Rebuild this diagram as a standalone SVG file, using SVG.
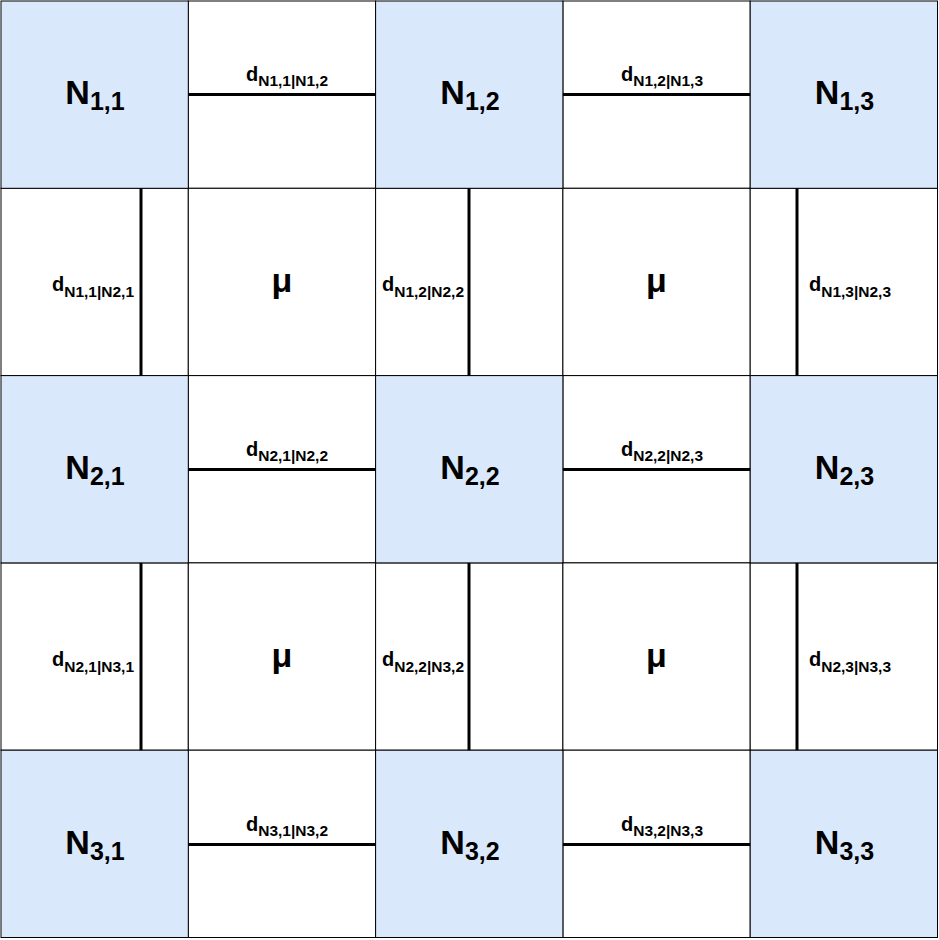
<svg xmlns="http://www.w3.org/2000/svg" width="939" height="940" viewBox="0 0 939 940">
<style>
.n{fill:#dae8fc;stroke:#000;stroke-width:1}
.e{fill:#fff;stroke:#000;stroke-width:1}
.bar{stroke:#000;stroke-width:3;fill:none}
.big{font-family:"Liberation Sans",Arial,sans-serif;font-weight:bold;font-size:34px;fill:#000;text-anchor:middle}
.bs{font-size:25px}
.d{font-family:"Liberation Sans",Arial,sans-serif;font-weight:bold;font-size:20px;fill:#000}
.ds{font-size:15.5px}
</style>
<rect x="0" y="0" width="939" height="940" fill="#fff"/>
<g id="cells-empty">
<rect class="e" x="188.3" y="1" width="187.3" height="187.3"/>
<rect class="e" x="562.9" y="1" width="187.3" height="187.3"/>
<rect class="e" x="1" y="188.3" width="187.3" height="187.3"/>
<rect class="e" x="188.3" y="188.3" width="187.3" height="187.3"/>
<rect class="e" x="375.6" y="188.3" width="187.3" height="187.3"/>
<rect class="e" x="562.9" y="188.3" width="187.3" height="187.3"/>
<rect class="e" x="750.2" y="188.3" width="187.3" height="187.3"/>
<rect class="e" x="188.3" y="375.6" width="187.3" height="187.3"/>
<rect class="e" x="562.9" y="375.6" width="187.3" height="187.3"/>
<rect class="e" x="1" y="562.9" width="187.3" height="187.3"/>
<rect class="e" x="188.3" y="562.9" width="187.3" height="187.3"/>
<rect class="e" x="375.6" y="562.9" width="187.3" height="187.3"/>
<rect class="e" x="562.9" y="562.9" width="187.3" height="187.3"/>
<rect class="e" x="750.2" y="562.9" width="187.3" height="187.3"/>
<rect class="e" x="188.3" y="750.2" width="187.3" height="187.3"/>
<rect class="e" x="562.9" y="750.2" width="187.3" height="187.3"/>
</g>
<g id="N11"><rect class="n" x="1" y="1" width="187.3" height="187.3"/><text class="big" x="95" y="104">N<tspan class="bs" dy="6">1,1</tspan></text></g>
<g id="N12"><rect class="n" x="375.6" y="1" width="187.3" height="187.3"/><text class="big" x="470" y="104">N<tspan class="bs" dy="6">1,2</tspan></text></g>
<g id="N13"><rect class="n" x="750.2" y="1" width="187.3" height="187.3"/><text class="big" x="844.5" y="104">N<tspan class="bs" dy="6">1,3</tspan></text></g>
<g id="N21"><rect class="n" x="1" y="375.6" width="187.3" height="187.3"/><text class="big" x="95" y="479">N<tspan class="bs" dy="6">2,1</tspan></text></g>
<g id="N22"><rect class="n" x="375.6" y="375.6" width="187.3" height="187.3"/><text class="big" x="470" y="479">N<tspan class="bs" dy="6">2,2</tspan></text></g>
<g id="N23"><rect class="n" x="750.2" y="375.6" width="187.3" height="187.3"/><text class="big" x="844.5" y="479">N<tspan class="bs" dy="6">2,3</tspan></text></g>
<g id="N31"><rect class="n" x="1" y="750.2" width="187.3" height="187.3"/><text class="big" x="95" y="854">N<tspan class="bs" dy="6">3,1</tspan></text></g>
<g id="N32"><rect class="n" x="375.6" y="750.2" width="187.3" height="187.3"/><text class="big" x="470" y="854">N<tspan class="bs" dy="6">3,2</tspan></text></g>
<g id="N33"><rect class="n" x="750.2" y="750.2" width="187.3" height="187.3"/><text class="big" x="844.5" y="854">N<tspan class="bs" dy="6">3,3</tspan></text></g>
<g id="connectors">
<line class="bar" x1="188.3" y1="94.5" x2="375.6" y2="94.5"/>
<line class="bar" x1="562.9" y1="94.5" x2="750.2" y2="94.5"/>
<line class="bar" x1="188.3" y1="469.5" x2="375.6" y2="469.5"/>
<line class="bar" x1="562.9" y1="469.5" x2="750.2" y2="469.5"/>
<line class="bar" x1="188.3" y1="844.5" x2="375.6" y2="844.5"/>
<line class="bar" x1="562.9" y1="844.5" x2="750.2" y2="844.5"/>
<line class="bar" x1="141" y1="188.3" x2="141" y2="375.6"/>
<line class="bar" x1="469" y1="188.3" x2="469" y2="375.6"/>
<line class="bar" x1="797" y1="188.3" x2="797" y2="375.6"/>
<line class="bar" x1="141" y1="562.9" x2="141" y2="750.2"/>
<line class="bar" x1="469" y1="562.9" x2="469" y2="750.2"/>
<line class="bar" x1="797" y1="562.9" x2="797" y2="750.2"/>
</g>
<g id="labels">
<text class="d" x="246" y="80.5">d<tspan class="ds" dy="5.5">N1,1|N1,2</tspan></text>
<text class="d" x="621" y="80.5">d<tspan class="ds" dy="5.5">N1,2|N1,3</tspan></text>
<text class="d" x="246" y="455.5">d<tspan class="ds" dy="5.5">N2,1|N2,2</tspan></text>
<text class="d" x="621" y="455.5">d<tspan class="ds" dy="5.5">N2,2|N2,3</tspan></text>
<text class="d" x="246" y="830.5">d<tspan class="ds" dy="5.5">N3,1|N3,2</tspan></text>
<text class="d" x="621" y="830.5">d<tspan class="ds" dy="5.5">N3,2|N3,3</tspan></text>
<text class="d" x="52" y="291">d<tspan class="ds" dy="5.5">N1,1|N2,1</tspan></text>
<text class="d" x="382" y="291">d<tspan class="ds" dy="5.5">N1,2|N2,2</tspan></text>
<text class="d" x="809" y="291">d<tspan class="ds" dy="5.5">N1,3|N2,3</tspan></text>
<text class="d" x="52" y="666">d<tspan class="ds" dy="5.5">N2,1|N3,1</tspan></text>
<text class="d" x="382" y="666">d<tspan class="ds" dy="5.5">N2,2|N3,2</tspan></text>
<text class="d" x="809" y="666">d<tspan class="ds" dy="5.5">N2,3|N3,3</tspan></text>
<text class="big" x="282" y="292">μ</text>
<text class="big" x="656.5" y="292">μ</text>
<text class="big" x="282" y="667">μ</text>
<text class="big" x="656.5" y="667">μ</text>
</g>
</svg>
